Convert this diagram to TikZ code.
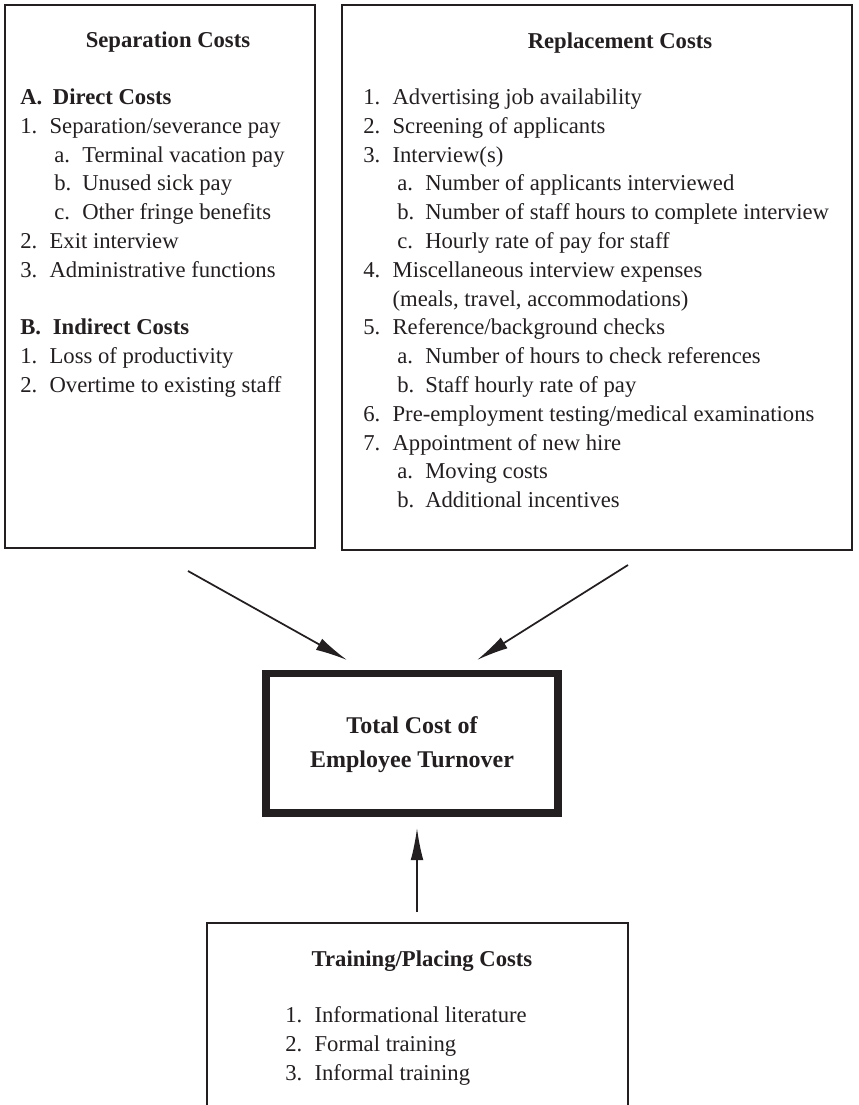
\documentclass[tikz,border=0pt]{standalone}
\usepackage{fontspec}
\setmainfont{Liberation Serif}
\usetikzlibrary{arrows.meta}
\definecolor{tinta}{HTML}{231F20}

\newcommand{\itm}[2]{\makebox[22pt][l]{#1}#2}
\newcommand{\secitm}[2]{\textbf{\makebox[24.5pt][l]{#1}#2}}
\newcommand{\subitm}[2]{\hspace{25.5pt}\makebox[21pt][l]{#1}#2}

\begin{document}
\begin{tikzpicture}[x=0.75pt, y=-0.75pt, >={Latex[length=24pt,width=9.5pt]},
    caixa/.style={draw=tinta, line width=2pt, inner sep=0pt},
    lista/.style={anchor=north west, inner sep=0pt, align=left, text=tinta,
        font=\fontsize{17}{21.6}\selectfont},
    titulo/.style={anchor=base, inner sep=0pt, text=tinta,
        font=\fontsize{17}{21.6}\selectfont\bfseries},
    seta/.style={->, draw=tinta, line width=1.3pt}]

    \useasboundingbox (0,0) rectangle (858,1105);

    % caixas
    \node[caixa, minimum width=232.5pt, minimum height=407.25pt] (sep) at (160,276.5) {};
    \node[caixa, minimum width=382.5pt, minimum height=408.75pt] (rep) at (597,277.5) {};
    \node[caixa, line width=5.6pt, minimum width=219pt, minimum height=104.6pt] (total) at (412,743.25) {};
    \node[caixa, minimum width=315.75pt, minimum height=166.5pt] (train) at (417.5,1034) {};

    % titulos
    \node[titulo] (septit) at (168,48) {Separation Costs};
    \node[titulo] (reptit) at (620,49) {Replacement Costs};
    \node[titulo] (traintit) at (422,966) {Training/Placing Costs};
    \node[titulo, anchor=center, align=center, font=\fontsize{18}{25.5}\selectfont\bfseries]
        (totaltxt) at (412,744.5) {Total Cost of\\Employee Turnover};

    % listas
    \node[lista] (seplist) at (20,88.5) {%
        \secitm{A.}{Direct Costs}\\
        \itm{1.}{Separation/severance pay}\\
        \subitm{a.}{Terminal vacation pay}\\
        \subitm{b.}{Unused sick pay}\\
        \subitm{c.}{Other fringe benefits}\\
        \itm{2.}{Exit interview}\\
        \itm{3.}{Administrative functions}\\[21.6pt]
        \secitm{B.}{Indirect Costs}\\
        \itm{1.}{Loss of productivity}\\
        \itm{2.}{Overtime to existing staff}};
    \node[lista] (replist) at (363,88.5) {%
        \itm{1.}{Advertising job availability}\\
        \itm{2.}{Screening of applicants}\\
        \itm{3.}{Interview(s)}\\
        \subitm{a.}{Number of applicants interviewed}\\
        \subitm{b.}{Number of staff hours to complete interview}\\
        \subitm{c.}{Hourly rate of pay for staff}\\
        \itm{4.}{Miscellaneous interview expenses}\\
        \itm{}{(meals, travel, accommodations)}\\
        \itm{5.}{Reference/background checks}\\
        \subitm{a.}{Number of hours to check references}\\
        \subitm{b.}{Staff hourly rate of pay}\\
        \itm{6.}{Pre-employment testing/medical examinations}\\
        \itm{7.}{Appointment of new hire}\\
        \subitm{a.}{Moving costs}\\
        \subitm{b.}{Additional incentives}};
    \node[lista] (trainlist) at (285,1006.5) {%
        \itm{1.}{Informational literature}\\
        \itm{2.}{Formal training}\\
        \itm{3.}{Informal training}};

    % setas
    \coordinate (sepout) at (188,571);
    \coordinate (sepin) at (347,660);
    \coordinate (repout) at (628,565);
    \coordinate (repin) at (477,660);
    \coordinate (trainout) at (417,912);
    \coordinate (trainin) at (417,828);
    \draw[seta] (sepout) -- (sepin);
    \draw[seta] (repout) -- (repin);
    \draw[seta] (trainout) -- (trainin);
\end{tikzpicture}
\end{document}
